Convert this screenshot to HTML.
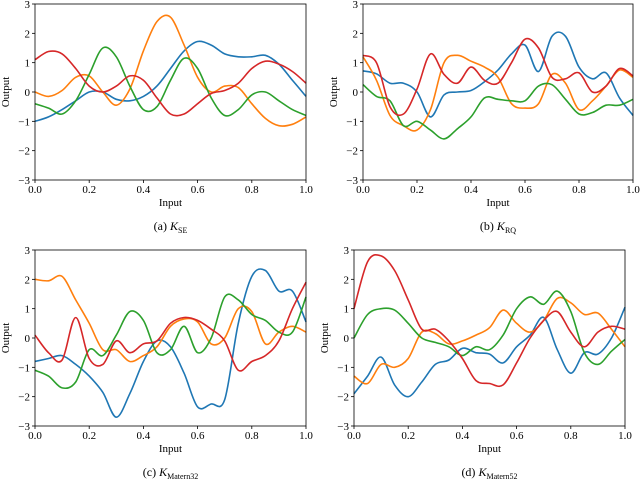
<!DOCTYPE html>
<html><head><meta charset="utf-8"><style>
body{margin:0;background:#fff;width:640px;height:480px;overflow:hidden}
svg{display:block;font-family:"Liberation Serif",serif}
</style></head><body>
<svg id="fig" width="640" height="480"></svg>
<script>
const xs=[0,.05,.1,.15,.2,.25,.3,.35,.4,.45,.5,.55,.6,.65,.7,.75,.8,.85,.9,.95,1];
const seBlue=[-1.0,-0.85,-0.6,-0.3,0.0,0.0,-0.25,-0.3,-0.15,0.2,0.8,1.4,1.72,1.6,1.3,1.2,1.2,1.25,0.95,0.4,-0.15];
const seOrange=[0.0,-0.15,0.05,0.5,0.55,0.0,-0.45,0.1,1.4,2.4,2.55,1.6,0.5,0.0,0.2,0.15,-0.4,-0.9,-1.15,-1.1,-0.85];
const seGreen=[-0.4,-0.55,-0.75,-0.3,0.6,1.5,1.2,0.2,-0.6,-0.5,0.4,1.15,0.8,-0.2,-0.8,-0.6,-0.1,0.0,-0.3,-0.6,-0.8];
const seRed=[1.1,1.38,1.3,0.8,0.2,0.0,0.2,0.55,0.4,-0.2,-0.75,-0.75,-0.4,-0.05,0.05,0.3,0.8,1.05,0.95,0.7,0.3];
const rqBlue=[0.72,0.62,0.3,0.3,0.0,-0.85,-0.1,0.0,0.05,0.35,0.75,1.3,1.6,0.7,1.9,1.9,0.85,0.45,0.65,-0.2,-0.8];
const rqOrange=[1.2,0.4,-0.8,-1.15,-1.3,-0.6,1.0,1.25,1.05,0.85,0.5,-0.4,-0.55,-0.4,0.6,0.3,-0.6,-0.3,0.2,0.75,0.5];
const rqGreen=[0.25,-0.15,-0.3,-1.15,-1.0,-1.3,-1.6,-1.25,-0.85,-0.2,-0.25,-0.3,-0.3,0.2,0.25,-0.25,-0.75,-0.7,-0.45,-0.45,-0.25];
const rqRed=[1.25,1.0,-0.5,-0.75,0.1,1.3,0.6,0.3,0.85,0.4,0.3,1.0,1.8,1.5,0.5,0.45,0.65,0.0,0.2,0.8,0.55];
const m32Blue=[-0.8,-0.7,-0.6,-0.9,-1.3,-1.85,-2.7,-1.9,-0.8,-0.1,-0.3,-1.2,-2.35,-2.25,-2.1,0.5,2.1,2.3,1.6,1.6,0.55];
const m32Orange=[2.0,1.95,2.1,1.3,0.5,-0.4,-0.4,-0.8,-0.6,-0.3,0.4,0.65,0.55,-0.2,0.0,1.0,0.9,-0.2,0.2,0.4,0.2];
const m32Green=[-1.1,-1.3,-1.7,-1.5,-0.4,-0.6,0.1,0.9,0.6,-0.5,-0.4,0.4,-0.5,0.0,1.4,1.3,0.8,0.6,0.2,0.2,1.4];
const m32Red=[0.1,-0.5,-0.75,0.7,-0.7,-0.9,-0.1,-0.5,-0.2,-0.1,0.5,0.7,0.6,0.3,-0.1,-1.1,-0.8,-0.6,-0.1,1.0,1.9];
const m52Blue=[-1.9,-1.3,-0.65,-1.6,-2.0,-1.5,-0.9,-0.75,-0.35,-0.5,-0.55,-0.85,-0.3,0.1,0.7,-0.4,-1.2,-0.5,-0.55,0.0,1.05];
const m52Orange=[-1.3,-1.55,-0.9,-1.0,-0.7,0.2,0.15,-0.2,-0.1,0.1,0.35,0.95,0.5,0.2,0.6,1.35,1.2,0.8,0.85,0.3,-0.3];
const m52Green=[0.0,0.8,1.0,0.95,0.5,0.0,-0.15,-0.3,-0.6,-0.3,-0.4,0.1,1.0,1.4,1.15,1.6,0.9,-0.5,-0.9,-0.45,-0.05];
const m52Red=[1.0,2.6,2.8,2.3,1.3,0.3,0.3,-0.1,-0.7,-1.45,-1.55,-1.6,-0.85,0.0,0.6,0.9,0.2,-0.3,0.2,0.4,0.3];
const xTicks=["0.0","0.2","0.4","0.6","0.8","1.0"];
const yTicks=["−3","−2","−1","0","1","2","3"];
const colors=["#1f77b4","#ff7f0e","#2ca02c","#d62728"];
const names=["blue","orange","green","red"];

const svg=document.getElementById('fig');
const NS="http://www.w3.org/2000/svg";
function mk(tag,attrs,parent){const e=document.createElementNS(NS,tag);for(const k in attrs)e.setAttribute(k,attrs[k]);(parent||svg).appendChild(e);return e;}
function smooth(pts){let d="M"+pts[0][0]+","+pts[0][1];for(let i=0;i<pts.length-1;i++){const p0=pts[Math.max(0,i-1)],p1=pts[i],p2=pts[i+1],p3=pts[Math.min(pts.length-1,i+2)];
const c1=[p1[0]+(p2[0]-p0[0])/6,p1[1]+(p2[1]-p0[1])/6],c2=[p2[0]-(p3[0]-p1[0])/6,p2[1]-(p3[1]-p1[1])/6];
d+=" C"+c1[0].toFixed(1)+","+c1[1].toFixed(1)+" "+c2[0].toFixed(1)+","+c2[1].toFixed(1)+" "+p2[0].toFixed(1)+","+p2[1].toFixed(1);}return d;}
function panel(id,L,R,T,B,series,cap,sub){
  const g=mk('g',{});
  
  
  const sx=v=>L+v*(R-L), sy=v=>T+(3-v)/6*(B-T);
  series.forEach((s,k)=>{
    const p=mk('path',{d:smooth(xs.map((x,i)=>[sx(x),sy(s[i])])),fill:'none',stroke:colors[k],'stroke-width':1.6},g);
    
    
  });
  const fr=mk('rect',{x:L,y:T,width:R-L,height:B-T,fill:'none',stroke:'#000','stroke-width':0.8},g);
  
  
  xTicks.forEach((t,i)=>{const x=sx(i/5);mk('line',{x1:x,x2:x,y1:B,y2:B+3,stroke:'#000','stroke-width':0.8},g);
    const tx=mk('text',{x:x,y:B+13,'font-size':11,'text-anchor':'middle'},g);tx.textContent=t;
    
    });
  yTicks.forEach((t,i)=>{const y=sy(i-3);mk('line',{x1:L-3,x2:L,y1:y,y2:y,stroke:'#000','stroke-width':0.8},g);
    const tx=mk('text',{x:L-5,y:y+4,'font-size':11,'text-anchor':'end'},g);tx.textContent=t;
    
    });
  const xl=mk('text',{x:(L+R)/2,y:B+26,'font-size':11,'text-anchor':'middle'},g);xl.textContent='Input';
  
  
  const yl=mk('text',{x:0,y:0,'font-size':11,'text-anchor':'middle',transform:`translate(${L-26},${(T+B)/2}) rotate(-90)`},g);yl.textContent='Output';
  
  
  const c=mk('text',{x:(L+R)/2,y:B+50,'font-size':12,'text-anchor':'middle'},g);
  
  
  const a=mk('tspan',{},c);a.textContent=cap+' ';
  const b=mk('tspan',{'font-style':'italic','font-family':'Liberation Serif, serif'},c);b.textContent='K';
  const s=mk('tspan',{'font-size':8,dy:3},c);s.textContent=sub;
}
panel('panel-se',35,306,4,180,[seBlue,seOrange,seGreen,seRed],'(a)','SE');
panel('panel-rq',363,633,4,180,[rqBlue,rqOrange,rqGreen,rqRed],'(b)','RQ');
panel('panel-matern32',35,306,250,426,[m32Blue,m32Orange,m32Green,m32Red],'(c)','Matern32');
panel('panel-matern52',354,625,250,426,[m52Blue,m52Orange,m52Green,m52Red],'(d)','Matern52');
</script>
</body></html>
